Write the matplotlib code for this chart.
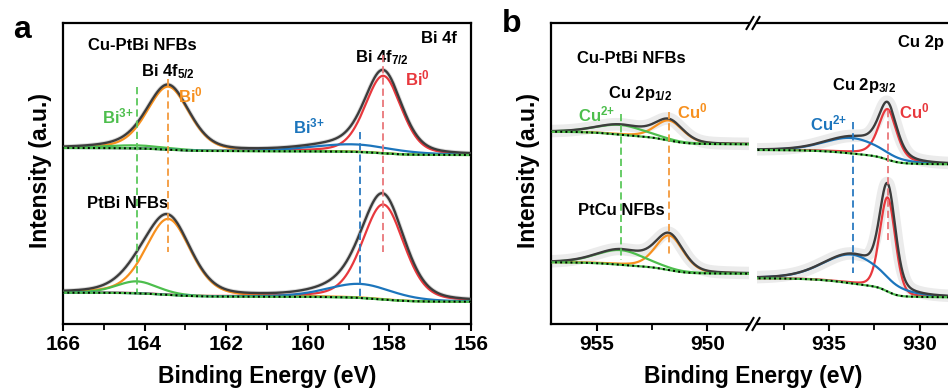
import numpy as np
import matplotlib
matplotlib.use("Agg")
import matplotlib.pyplot as plt
from matplotlib.lines import Line2D

# ---------------- data ----------------
# Panel a : Bi 4f, components = [Bi0 4f5/2, Bi3+ 4f5/2, Bi0 4f7/2, Bi3+ 4f7/2]
bi_labels = ["Bi0 4f5/2", "Bi3+ 4f5/2", "Bi0 4f7/2", "Bi3+ 4f7/2"]
bi_center_cupt = [163.42, 164.21, 158.15, 158.90]
bi_height_cupt = [63, 3, 77.5, 7.5]
bi_fwhm_cupt = [1.22, 1.8, 1.05, 2.4]
bi_mix_cupt = [0.3, 0.3, 0.3, 0.3]
bi_bg_cupt = [176, 169]          # background at high-BE / low-BE end

bi_center_ptbi = [163.42, 164.19, 158.15, 158.72]
bi_height_ptbi = [76, 12, 95, 14]
bi_fwhm_ptbi = [1.3, 1.2, 1.2, 1.9]
bi_mix_ptbi = [0.3, 0.3, 0.3, 0.3]
bi_bg_ptbi = [31.3, 22.3]

# Panel b : Cu 2p, 2p1/2 window = [Cu2+, Cu0], 2p3/2 window = [Cu2+, Cu0]
cu12_center = [953.92, 951.71]
cu32_center = [933.70, 931.78]
cu12_height_cupt = [9.7, 20]
cu12_fwhm_cupt = [2.6, 1.5]
cu12_mix_cupt = [0.3, 0.3]
cu12_bg_cupt = [192.3, 179.7]
cu32_height_cupt = [15.5, 50.5]
cu32_fwhm_cupt = [3.6, 1.2]
cu32_mix_cupt = [0.3, 0.5]
cu32_bg_cupt = [174, 159.5]

cu12_height_ptcu = [14.7, 34.7]
cu12_fwhm_ptcu = [2.6, 1.5]
cu12_mix_ptcu = [0.3, 0.3]
cu12_bg_ptcu = [61.7, 50.3]
cu32_height_ptcu = [28.8, 94]
cu32_fwhm_ptcu = [3.8, 1.0]
cu32_mix_ptcu = [0.3, 0.2]
cu32_bg_ptcu = [45.7, 26.5]

bi_ticks = [166, 164, 162, 160, 158, 156]
cu_ticks_left = [955, 950]
cu_ticks_right = [935, 930]

# ---------------- style ----------------
plt.rcParams['font.family'] = ['Liberation Sans', 'DejaVu Sans']
plt.rcParams['font.weight'] = 'bold'
plt.rcParams['mathtext.fontset'] = 'custom'
plt.rcParams['mathtext.rm'] = 'Liberation Sans:bold'
plt.rcParams['mathtext.bf'] = 'Liberation Sans:bold'
plt.rcParams['mathtext.it'] = 'Liberation Sans:bold'
plt.rcParams['mathtext.default'] = 'rm'

C_ENV = '#3c3c3c'
C_OR = '#F7901E'
C_RED = '#E8383D'
C_GR = '#4DBE4D'
C_BL = '#1C75BC'
C_RED_D = '#E9767A'
C_OR_D = '#F39A3D'
C_GR_D = '#5CC85C'
C_BL_D = '#2A7AC0'

W, H = 948, 392
fig = plt.figure(figsize=(W / 100, H / 100), dpi=100)


def pos(l, r, t=23, b=324):
    return [l / W, 1 - b / H, (r - l) / W, (b - t) / H]


def gl(x, c, h, w, m):
    g = np.exp(-4 * np.log(2) * ((x - c) / w) ** 2)
    lo = 1 / (1 + 4 * ((x - c) / w) ** 2)
    return h * ((1 - m) * g + m * lo)


def draw_window(ax, xlo, xhi, centers, heights, fwhms, mixes, bg_ends, colors, halo_lw, halo_c):
    x = np.linspace(xlo, xhi, 800)
    peaks = [gl(x, c, h, w, m) for c, h, w, m in zip(centers, heights, fwhms, mixes)]
    total = np.sum(peaks, axis=0)
    cum = np.concatenate([[0], np.cumsum(0.5 * (total[1:] + total[:-1]) * np.diff(x))])
    S = cum / cum[-1]
    bg = bg_ends[1] + (bg_ends[0] - bg_ends[1]) * S
    env = bg + total
    ax.plot(x, env, color=halo_c, lw=halo_lw, zorder=1, solid_capstyle='butt')
    for p, col in zip(peaks, colors):
        z = 2 if col in (C_OR, C_RED) else 2.5
        ax.plot(x, bg + p, color=col, lw=1.6, zorder=z)
    ax.plot(x, env, color=C_ENV, lw=1.7, zorder=3)
    ax.plot(x, bg, color=C_GR, lw=1.6, zorder=4)
    ax.plot(x, bg, color='black', lw=1.4, ls=':', zorder=5)


def dashed(ax, x, y0, y1, col):
    ax.plot([x, x], [y0, y1], color=col, lw=1.3, ls=(0, (4, 2.2)), zorder=6)


def style_axes(ax):
    for s in ax.spines.values():
        s.set_linewidth(1.6)
    ax.set_yticks([])
    ax.tick_params(axis='x', which='major', direction='out', length=5, width=1.5,
                   labelsize=15, pad=3)
    ax.tick_params(axis='x', which='minor', direction='out', length=4, width=1.3)
    ax.set_ylim(0, 301)


LBL = 12

# ---------------- panel a ----------------
ax = fig.add_axes(pos(63, 471))
ax.set_xlim(166, 156)
style_axes(ax)
ax.set_xticks(bi_ticks)
ax.set_xticks([165, 163, 161, 159, 157], minor=True)
ax.set_xticklabels([str(t) for t in bi_ticks])
bi_cols = [C_OR, C_GR, C_RED, C_BL]
draw_window(ax, 156, 166, bi_center_cupt, bi_height_cupt, bi_fwhm_cupt, bi_mix_cupt,
            bi_bg_cupt, bi_cols, 3, '#dadada')
draw_window(ax, 156, 166, bi_center_ptbi, bi_height_ptbi, bi_fwhm_ptbi, bi_mix_ptbi,
            bi_bg_ptbi, bi_cols, 3, '#dadada')
dashed(ax, bi_center_ptbi[1], 237, 32, C_GR_D)
dashed(ax, bi_center_cupt[0], 245, 72, C_OR_D)
dashed(ax, bi_center_ptbi[3], 192, 26, C_BL_D)
dashed(ax, bi_center_cupt[2], 269, 72, C_RED_D)

ax.text(165.39, 274, 'Cu-PtBi NFBs', fontsize=LBL, ha='left', va='baseline')
ax.text(157.23, 281, 'Bi 4f', fontsize=LBL, ha='left', va='baseline')
ax.text(164.09, 247.5, r'Bi 4f$_{5/2}$', fontsize=LBL, ha='left', va='baseline')
ax.text(163.18, 222, r'Bi$^{0}$', fontsize=LBL, ha='left', va='baseline', color=C_OR)
ax.text(165.04, 201, r'Bi$^{3{+}}$', fontsize=LBL, ha='left', va='baseline', color=C_GR)
ax.text(158.84, 262, r'Bi 4f$_{7/2}$', fontsize=LBL, ha='left', va='baseline')
ax.text(157.62, 239, r'Bi$^{0}$', fontsize=LBL, ha='left', va='baseline', color=C_RED)
ax.text(160.36, 191, r'Bi$^{3{+}}$', fontsize=LBL, ha='left', va='baseline', color=C_BL)
ax.text(165.41, 116, 'PtBi NFBs', fontsize=LBL, ha='left', va='baseline')

fig.text(267 / W, 1 - 377 / H, 'Binding Energy (eV)', fontsize=16.5, ha='center', va='center')
fig.text(41 / W, 1 - 170 / H, 'Intensity (a.u.)', fontsize=16.5, ha='center', va='center',
         rotation=90)
fig.text(22 / W, 1 - 30 / H, 'a', fontsize=23, ha='center', va='center')

# ---------------- panel b ----------------
axl = fig.add_axes(pos(551, 749))
axl.set_xlim(957.07, 948.11)
style_axes(axl)
axl.spines['right'].set_visible(False)
axl.set_xticks(cu_ticks_left)
axl.set_xticks([952.5], minor=True)
axl.set_xticklabels([str(t) for t in cu_ticks_left])

axr = fig.add_axes(pos(757, 1000))
axr.set_xlim(938.96, 925.6)
style_axes(axr)
axr.spines['left'].set_visible(False)
axr.set_xticks(cu_ticks_right)
axr.set_xticks([937.5, 932.5, 927.5], minor=True)
axr.set_xticklabels([str(t) for t in cu_ticks_right])

halo = '#ebebeb'
draw_window(axl, 947.5, 957.5, cu12_center, cu12_height_cupt, cu12_fwhm_cupt, cu12_mix_cupt,
            cu12_bg_cupt, [C_GR, C_OR], 9, halo)
draw_window(axl, 947.5, 957.5, cu12_center, cu12_height_ptcu, cu12_fwhm_ptcu, cu12_mix_ptcu,
            cu12_bg_ptcu, [C_GR, C_OR], 9, halo)
draw_window(axr, 925.0, 939.2, cu32_center, cu32_height_cupt, cu32_fwhm_cupt, cu32_mix_cupt,
            cu32_bg_cupt, [C_BL, C_RED], 9, halo)
draw_window(axr, 925.0, 939.2, cu32_center, cu32_height_ptcu, cu32_fwhm_ptcu, cu32_mix_ptcu,
            cu32_bg_ptcu, [C_BL, C_RED], 9, halo)

dashed(axl, cu12_center[0], 210, 64, C_GR_D)
dashed(axl, cu12_center[1], 212, 68, C_OR_D)
dashed(axr, cu32_center[0], 202, 51, C_BL_D)
dashed(axr, cu32_center[1], 214, 84, C_RED_D)

axl.text(955.9, 261, 'Cu-PtBi NFBs', fontsize=LBL, ha='left', va='baseline')
axl.text(954.5, 226, r'Cu 2p$_{1/2}$', fontsize=LBL, ha='left', va='baseline')
axl.text(955.85, 203, r'Cu$^{2{+}}$', fontsize=LBL, ha='left', va='baseline', color=C_GR)
axl.text(951.35, 206, r'Cu$^{0}$', fontsize=LBL, ha='left', va='baseline', color=C_OR)
axl.text(955.85, 109, 'PtCu NFBs', fontsize=LBL, ha='left', va='baseline')
axr.text(934.84, 234, r'Cu 2p$_{3/2}$', fontsize=LBL, ha='left', va='baseline')
axr.text(931.16, 206, r'Cu$^{0}$', fontsize=LBL, ha='left', va='baseline', color=C_RED)
axr.text(936.05, 194, r'Cu$^{2{+}}$', fontsize=LBL, ha='left', va='baseline', color=C_BL)
axr.text(931.21, 277, 'Cu 2p', fontsize=LBL, ha='left', va='baseline')

# break marks
for yb in (23, 324):
    for xb in (750, 756):
        fig.add_artist(Line2D([(xb - 3.5) / W, (xb + 3.5) / W],
                              [1 - (yb + 6) / H, 1 - (yb - 6) / H],
                              transform=fig.transFigure, color='black', lw=1.5))

fig.text(753 / W, 1 - 377 / H, 'Binding Energy (eV)', fontsize=16.5, ha='center', va='center')
fig.text(529 / W, 1 - 170 / H, 'Intensity (a.u.)', fontsize=16.5, ha='center', va='center',
         rotation=90)
fig.text(512 / W, 1 - 24 / H, 'b', fontsize=23, ha='center', va='center')

fig.savefig('out.png', dpi=100)
